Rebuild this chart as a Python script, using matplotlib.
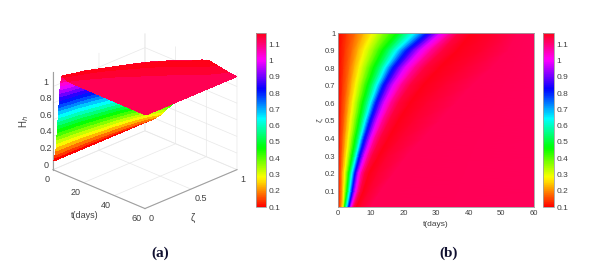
import matplotlib
matplotlib.use('Agg')
import matplotlib.pyplot as plt
import numpy as np

zeta = [0.01, 0.1, 0.2, 0.3, 0.4, 0.5, 0.6, 0.7, 0.8, 0.9, 1.0]
H_levels = [0.10, 0.14, 0.18, 0.23, 0.28, 0.325, 0.37, 0.415, 0.46, 0.505, 0.55, 0.595, 0.64, 0.685, 0.73,
            0.77, 0.81, 0.855, 0.90, 0.945, 0.99, 1.035, 1.08, 1.11, 1.14, 1.17, 1.15, 1.125, 1.12]

t_z001 = [0, .4, .8, 1.2, 1.6, 1.75, 1.9, 2.0, 2.1, 2.25, 2.4, 2.6, 2.8, 2.95, 3.1, 3.25, 3.4, 3.55, 3.7, 3.85, 4.0, 4.25, 4.5, 4.75, 5.0, 5.7, 7, 10, 60]
t_z01 = [0, .5, .9, 1.4, 1.8, 2.05, 2.3, 2.55, 2.8, 3.0, 3.2, 3.4, 3.6, 3.8, 4.0, 4.2, 4.4, 4.6, 4.8, 5.1, 5.4, 5.75, 6.1, 6.5, 6.9, 7.8, 9.5, 13, 60]
t_z02 = [0, .5, 1.0, 1.5, 2.0, 2.35, 2.7, 3.0, 3.3, 3.55, 3.8, 4.05, 4.3, 4.55, 4.8, 5.0, 5.2, 5.45, 5.7, 6.0, 6.3, 6.75, 7.2, 7.7, 8.2, 9.5, 12, 17, 60]
t_z03 = [0, .65, 1.3, 1.95, 2.6, 3.05, 3.5, 3.9, 4.3, 4.65, 5.0, 5.3, 5.6, 5.85, 6.1, 6.35, 6.6, 6.95, 7.3, 7.7, 8.1, 8.65, 9.2, 9.85, 10.5, 12.5, 15, 21, 60]
t_z04 = [0, .8, 1.6, 2.4, 3.2, 3.75, 4.3, 4.8, 5.3, 5.75, 6.2, 6.55, 6.9, 7.2, 7.5, 7.8, 8.1, 8.55, 9.0, 9.5, 10, 10.65, 11.3, 12.15, 13, 15.5, 19, 26, 60]
t_z05 = [0, 1, 2, 2.9, 3.8, 4.5, 5.2, 5.8, 6.4, 6.9, 7.4, 7.85, 8.3, 8.7, 9.1, 9.45, 9.8, 10.3, 10.8, 11.4, 12, 12.85, 13.7, 14.7, 15.7, 18.5, 23, 31, 60]
t_z06 = [0, 1.2, 2.4, 3.45, 4.5, 5.3, 6.1, 6.8, 7.5, 8.15, 8.8, 9.35, 9.9, 10.35, 10.8, 11.2, 11.6, 12.2, 12.8, 13.5, 14.2, 15.2, 16.2, 17.35, 18.5, 22, 27, 36, 60]
t_z07 = [0, 1.45, 2.9, 4.15, 5.4, 6.35, 7.3, 8.15, 9, 9.75, 10.5, 11.15, 11.8, 12.35, 12.9, 13.35, 13.8, 14.5, 15.2, 16.05, 16.9, 18.1, 19.3, 20.65, 22, 26, 32, 41, 60]
t_z08 = [0, 1.75, 3.5, 5, 6.5, 7.65, 8.8, 9.85, 10.9, 11.85, 12.8, 13.55, 14.3, 14.95, 15.6, 16.2, 16.8, 17.65, 18.5, 19.5, 20.5, 21.95, 23.4, 24.95, 26.5, 31, 38, 47, 60]
t_z09 = [0, 2.15, 4.3, 6.15, 8, 9.5, 11, 12.3, 13.6, 14.7, 15.8, 16.8, 17.8, 18.65, 19.5, 20.25, 21, 22, 23, 24.15, 25.3, 26.9, 28.5, 30.25, 32, 36.5, 44, 52, 60]
t_z10 = [0, 2.7, 5.4, 8, 10.5, 12.25, 14, 16, 18, 19.25, 20.5, 21.9, 23.3, 24.4, 25.5, 26.4, 27.3, 28.3, 29.3, 30.4, 31.5, 33, 34.5, 35.75, 37, 41, 48, 55, 60]


def colorbar_ticks(cb):
    cb.set_ticks([0.1, 0.2, 0.3, 0.4, 0.5, 0.6, 0.7, 0.8, 0.9, 1, 1.1])
    cb.set_ticklabels(['0.1', '0.2', '0.3', '0.4', '0.5', '0.6', '0.7', '0.8', '0.9', '1', '1.1'])
    cb.ax.tick_params(labelsize=6, length=0, colors=TXT, pad=2)
    cb.outline.set_edgecolor(EDGE)
    cb.outline.set_linewidth(0.6)


TXT = '#404040'
EDGE = '#a0a0a0'
plt.rcParams['font.family'] = ['Liberation Sans', 'DejaVu Sans']

T = np.array([t_z001, t_z01, t_z02, t_z03, t_z04, t_z05, t_z06, t_z07, t_z08, t_z09, t_z10])
Z = np.array(zeta)[:, None] * np.ones(len(H_levels))
H = np.array(H_levels)[None, :] * np.ones((len(zeta), 1))

W, Hg = 590.0, 265.0
fig = plt.figure(figsize=(5.9, 2.65), dpi=100)


def box(x0, y0, x1, y1):
    return [x0 / W, 1 - y1 / Hg, (x1 - x0) / W, (y1 - y0) / Hg]


# panel (a)
ax3 = fig.add_axes(box(22, 14, 262, 234), projection='3d', proj_type='ortho')
ax3.view_init(elev=25, azim=-45)
ax3.set_box_aspect((4, 4, 3.3), zoom=0.94)
ax3.plot_surface(T, Z, H, facecolors=plt.cm.hsv((H - 0.1) / 1.07), rstride=1, cstride=1,
                 linewidth=0, antialiased=False, shade=False)
ax3.set_xlim(0, 60)
ax3.set_ylim(0, 1)
ax3.set_zlim(0, 1.17)
ax3.set_xticks([0, 20, 40, 60])
ax3.set_yticks([0, 0.5, 1])
ax3.set_yticklabels(['0', '0.5', '1'])
ax3.set_zticks([0, 0.2, 0.4, 0.6, 0.8, 1])
ax3.set_zticklabels(['0', '0.2', '0.4', '0.6', '0.8', '1'])
ax3.tick_params(labelsize=6.5, colors=TXT, pad=-5)
ax3.zaxis.set_ticks_position('lower')
for lab in ax3.get_xticklabels():
    lab.set_ha('right')
for lab in ax3.get_yticklabels():
    lab.set_ha('left')
for lab in ax3.get_zticklabels():
    lab.set_va('bottom')
for a in (ax3.xaxis, ax3.yaxis, ax3.zaxis):
    a.set_pane_color((1, 1, 1, 0))
    a.line.set_color(EDGE)
    a._axinfo['grid']['color'] = '#e8e8e8'
    a._axinfo['grid']['linewidth'] = 0.5
    a._axinfo['tick']['inward_factor'] = 0
    a._axinfo['tick']['outward_factor'] = 0

# axis labels of the 3d panel stay horizontal, so they are placed by hand
fig.text(85 / W, 1 - 216 / Hg, 't(days)', fontsize=6.5, color=TXT, ha='center', va='center')
fig.text(193 / W, 1 - 218 / Hg, 'ζ', fontsize=7, color=TXT, ha='center', va='center')
fig.text(24 / W, 1 - 122 / Hg, 'H$_h$', fontsize=7, color=TXT, ha='center', va='center', rotation=90)

# colorbar of panel (a)
sm = plt.cm.ScalarMappable(norm=plt.Normalize(0.1, 1.17), cmap='hsv')
cax1 = fig.add_axes(box(256, 33, 266, 207))
colorbar_ticks(fig.colorbar(sm, cax=cax1))

# panel (b)
ax2 = fig.add_axes(box(338, 33, 534, 207))
m = ax2.pcolormesh(T, Z, H, cmap='hsv', vmin=0.1, vmax=1.17, shading='gouraud')
ax2.set_xlim(0, 60)
ax2.set_ylim(0.01, 1)
ax2.set_xticks([0, 10, 20, 30, 40, 50, 60])
ax2.set_yticks([0.1, 0.2, 0.3, 0.4, 0.5, 0.6, 0.7, 0.8, 0.9, 1])
ax2.set_yticklabels(['0.1', '0.2', '0.3', '0.4', '0.5', '0.6', '0.7', '0.8', '0.9', '1'])
ax2.tick_params(labelsize=5.5, length=0, colors=TXT, pad=2)
ax2.set_xlabel('t(days)', fontsize=6, color=TXT, labelpad=3)
ax2.set_ylabel('ζ', fontsize=6, color=TXT, labelpad=1)
for s in ax2.spines.values():
    s.set_edgecolor(EDGE)
    s.set_linewidth(0.6)

cax2 = fig.add_axes(box(543, 33, 554, 207))
colorbar_ticks(fig.colorbar(m, cax=cax2))

fig.text(160 / W, 1 - 253 / Hg, '(a)', family='Liberation Serif', weight='bold', fontsize=11,
         color='#101030', ha='center', va='center')
fig.text(449 / W, 1 - 253 / Hg, '(b)', family='Liberation Serif', weight='bold', fontsize=11,
         color='#101030', ha='center', va='center')

fig.savefig('out.png', dpi=100)
plt.close(fig)
